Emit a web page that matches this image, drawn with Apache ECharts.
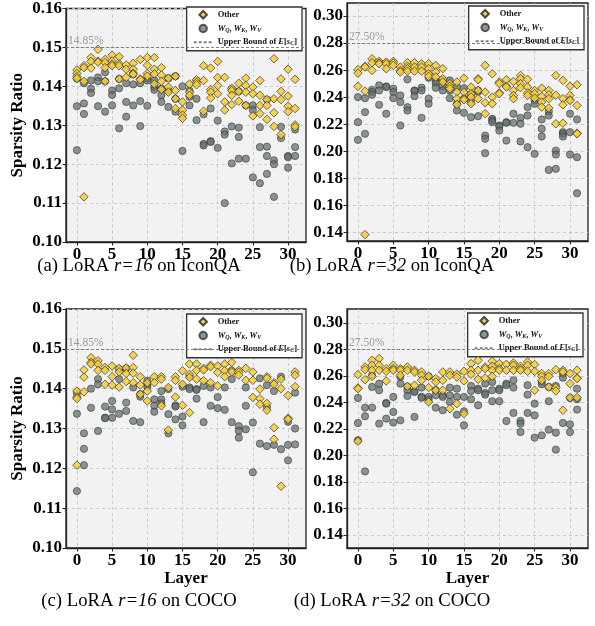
<!DOCTYPE html>
<html><head><meta charset="utf-8">
<script src="https://cdn.jsdelivr.net/npm/echarts@6/dist/echarts.min.js"></script>
<style>html,body{margin:0;padding:0;background:#fff}#c{width:595px;height:626px}</style>
</head><body><div id="c"></div>
<script>
const layers = Array.from({length: 32}, (_, i) => i);
const xTicks = [0, 5, 10, 15, 20, 25, 30];
const yTicksR16 = [0.10, 0.11, 0.12, 0.13, 0.14, 0.15, 0.16];
const yTicksR32 = [0.14, 0.16, 0.18, 0.20, 0.22, 0.24, 0.26, 0.28, 0.30];
const boundR16 = 0.1485;
const boundR32 = 0.2750;
const captions = [
  ['(a) LoRA ', 'r=16', ' on IconQA'],
  ['(b) LoRA ', 'r=32', ' on IconQA'],
  ['(c) LoRA ', 'r=16', ' on COCO'],
  ['(d) LoRA ', 'r=32', ' on COCO']
];

const otherA = [
[0.1442,0.1433,0.1425,0.1420],[0.1453,0.1448,0.1413,0.1116],[0.1474,0.1464,0.1447],[0.1495,0.1465,0.1462],
[0.1469,0.1461,0.1448,0.1413],[0.1480,0.1465,0.1457,0.1453],[0.1476,0.1458,0.1453,0.1419],[0.1455,0.1444,0.1423],
[0.1459,0.1444,0.1434,0.1431],[0.1469,0.1419,0.1417],[0.1474,0.1454,0.1433,0.1426],[0.1474,0.1444,0.1432,0.1406],
[0.1448,0.1429,0.1413,0.1392],[0.1421,0.1398,0.1385],[0.1426,0.1389,0.1368,0.1343],[0.1360,0.1339,0.1326,0.1318],
[0.1406,0.1385,0.1377],[0.1417,0.1410,0.1404],[0.1453,0.1415,0.1336],[0.1447,0.1392,0.1385,0.1370],
[0.1464,0.1423,0.1402,0.1381],[0.1423,0.1360,0.1339],[0.1395,0.1389,0.1377,0.1353],[0.1408,0.1387,0.1362],
[0.1421,0.1402,0.1385,0.1351],[0.1398,0.1381,0.1324],[0.1415,0.1377,0.1351,0.1330],[0.1366,0.1351,0.1315],
[0.1471,0.1368,0.1332,0.1297],[0.1419,0.1387,0.1366,0.1276],[0.1444,0.1375,0.1349,0.1335],[0.1418,0.1343,0.1301,0.1296]
];
const qkvA = [
[0.1420,0.1349,0.1236],[0.1408,0.1356,0.1329],[0.1415,0.1394,0.1383],[0.1423,0.1413,0.1349],
[0.1436,0.1413,0.1335],[0.1389,0.1378,0.1351],[0.1419,0.1395,0.1292],[0.1408,0.1360,0.1322],
[0.1431,0.1405,0.1351],[0.1408,0.1362,0.1298],[0.1420,0.1415,0.1350],[0.1415,0.1398,0.1391],
[0.1394,0.1377,0.1360],[0.1421,0.1389,0.1347],[0.1426,0.1368,0.1335],[0.1400,0.1234],
[0.1389,0.1373,0.1351],[0.1415,0.1368,0.1313],[0.1328,0.1252,0.1248],[0.1343,0.1259,0.1257],
[0.1312,0.1242],[0.1284,0.1276,0.1100],[0.1393,0.1297,0.1202],[0.1387,0.1294,0.1270,0.1214],
[0.1351,0.1214],[0.1351,0.1339,0.1166],[0.1295,0.1244,0.1151],[0.1366,0.1245,0.1221,0.1175],
[0.1210,0.1200,0.1116],[0.1296,0.1267],[0.1221,0.1218,0.1191],[0.1289,0.1244,0.1221]
];
const otherB = [
[0.2603,0.2578,0.2480],[0.2628,0.2623,0.2445,0.1385],[0.2684,0.2655,0.2598],[0.2665,0.2652,0.2647],
[0.2660,0.2647,0.2611],[0.2665,0.2652,0.2635],[0.2623,0.2598,0.2586],[0.2655,0.2628,0.2611,0.2593],
[0.2655,0.2623,0.2593],[0.2647,0.2623,0.2593],[0.2647,0.2611,0.2573,0.2554],[0.2635,0.2586,0.2549],
[0.2611,0.2537,0.2512],[0.2500,0.2480,0.2463],[0.2512,0.2438,0.2389,0.2347],[0.2541,0.2438,0.2389,0.2381],
[0.2475,0.2426,0.2401,0.2352],[0.2537,0.2529,0.2450,0.2389],[0.2635,0.2438,0.2359,0.2278],[0.2573,0.2401,0.2352],
[0.2512,0.2500,0.2433,0.2426],[0.2529,0.2482,0.2475],[0.2517,0.2450,0.2413,0.2389],[0.2561,0.2537,0.2500,0.2470],
[0.2532,0.2475,0.2431,0.2413],[0.2450,0.2426,0.2393],[0.2467,0.2406,0.2364,0.2327],[0.2450,0.2418,0.2389,0.2320],
[0.2561,0.2415,0.2204],[0.2524,0.2389,0.2344,0.2208],[0.2482,0.2413,0.2381,0.2376],[0.2492,0.2339,0.2135,0.2130]
];
const qkvB = [
[0.2401,0.2216,0.2085],[0.2393,0.2290,0.2130],[0.2455,0.2438,0.2418],[0.2487,0.2450,0.2344],
[0.2480,0.2475,0.2278],[0.2463,0.2438,0.2393],[0.2413,0.2364,0.2191],[0.2532,0.2327,0.2302],
[0.2450,0.2445,0.2408],[0.2470,0.2450,0.2248],[0.2544,0.2389,0.2352],[0.2519,0.2504,0.2470],
[0.2529,0.2480,0.2450],[0.2524,0.2450,0.2393],[0.2475,0.2352,0.2302],[0.2467,0.2389,0.2285],
[0.2421,0.2364,0.2253],[0.2450,0.2440,0.2260],[0.2117,0.2093,0.1987],[0.2241,0.2228,0.2216],
[0.2191,0.2184,0.2154],[0.2216,0.2211,0.2080],[0.2278,0.2211],[0.2248,0.2204,0.2073],
[0.2327,0.2265,0.2031],[0.2376,0.2352,0.1982],[0.2236,0.2167,0.2110],[0.2295,0.2265,0.1863],
[0.2006,0.1977,0.1871],[0.2142,0.2130,0.2110],[0.2278,0.2142,0.1977],[0.2236,0.1957,0.1691]
];
const otherC = [
[0.1394,0.1379,0.1375,0.1208],[0.1447,0.1429,0.1392],[0.1478,0.1466,0.1462],[0.1470,0.1462,0.1446],
[0.1453,0.1446,0.1411],[0.1457,0.1430,0.1409],[0.1451,0.1442,0.1404],[0.1452,0.1438,0.1418],
[0.1484,0.1453,0.1439,0.1415],[0.1430,0.1409,0.1386],[0.1415,0.1394,0.1369],[0.1430,0.1415],
[0.1430,0.1424,0.1357],[0.1403,0.1296],[0.1430,0.1421,0.1379],[0.1445,0.1411,0.1358],
[0.1462,0.1436,0.1428,0.1340],[0.1462,0.1446,0.1424],[0.1451,0.1447,0.1420],[0.1459,0.1455,0.1415],
[0.1457,0.1441,0.1407],[0.1462,0.1445,0.1430],[0.1466,0.1446,0.1442],[0.1446,0.1441,0.1434],
[0.1451,0.1421],[0.1442,0.1421,0.1378],[0.1399,0.1375,0.1361],[0.1430,0.1426,0.1363,0.1346],
[0.1415,0.1411,0.1302,0.1273],[0.1424,0.1400,0.1155],[0.1383,0.1326,0.1323],[0.1442,0.1434,0.1405]
];
const qkvC = [
[0.1388,0.1337,0.1143],[0.1288,0.1249,0.1208],[0.1400,0.1352],[0.1424,0.1411,0.1294],
[0.1355,0.1327,0.1326],[0.1369,0.1348,0.1327],[0.1449,0.1424,0.1337],[0.1451,0.1365,0.1344],
[0.1403,0.1319],[0.1386,0.1380,0.1316],[0.1420,0.1411,0.1405],[0.1373,0.1357,0.1342],
[0.1394,0.1373,0.1363],[0.1399,0.1336,0.1288],[0.1358,0.1355,0.1323],[0.1405,0.1330,0.1308],
[0.1432,0.1403,0.1399],[0.1399,0.1397,0.1375],[0.1407,0.1316],[0.1403,0.1357],
[0.1379,0.1351],[0.1403,0.1347],[0.1445,0.1424,0.1316],[0.1306,0.1294,0.1277],
[0.1403,0.1357,0.1298],[0.1315,0.1190],[0.1426,0.1262],[0.1409,0.1354,0.1256],
[0.1394,0.1259],[0.1430,0.1248],[0.1317,0.1259,0.1220],[0.1390,0.1300,0.1260]
];
const otherD = [
[0.2610,0.2509,0.2504,0.2107],[0.2668,0.2648,0.2572],[0.2718,0.2681,0.2643,0.2597],[0.2731,0.2681,0.2643],
[0.2655,0.2635,0.2562],[0.2681,0.2655,0.2643],[0.2655,0.2643,0.2605],[0.2668,0.2643,0.2522],
[0.2643,0.2630,0.2530],[0.2630,0.2605,0.2567],[0.2597,0.2512,0.2404],[0.2580,0.2555,0.2492],
[0.2630,0.2567,0.2492],[0.2630,0.2605,0.2353],[0.2613,0.2592,0.2391],[0.2635,0.2562,0.2316],
[0.2693,0.2643,0.2613],[0.2718,0.2643,0.2575],[0.2668,0.2655,0.2585],[0.2711,0.2673,0.2643,0.2597],
[0.2693,0.2655,0.2643],[0.2688,0.2643],[0.2698,0.2681,0.2643],[0.2673,0.2655,0.2643],
[0.2706,0.2681,0.2635],[0.2686,0.2635,0.2492],[0.2618,0.2597,0.2567],[0.2618,0.2597,0.2517],
[0.2648,0.2512,0.2487],[0.2643,0.2630,0.2341],[0.2618,0.2542,0.2437],[0.2643,0.2585,0.2580,0.2437]
];
const qkvD = [
[0.2434,0.2245,0.2115],[0.2361,0.2296,0.1880],[0.2605,0.2517,0.2361],[0.2542,0.2492,0.2240],
[0.2396,0.2391,0.2278],[0.2442,0.2328,0.2248],[0.2592,0.2542,0.2265],[0.2520,0.2492,0.2449],
[0.2484,0.2479,0.2291],[0.2512,0.2442,0.2436],[0.2597,0.2442,0.2421],[0.2492,0.2454,0.2361],
[0.2454,0.2442,0.2341],[0.2512,0.2454,0.2404],[0.2504,0.2442,0.2308],[0.2442,0.2333,0.2228],
[0.2525,0.2487,0.2424],[0.2504,0.2492,0.2379],[0.2542,0.2472,0.2459],[0.2555,0.2492,0.2409],
[0.2504,0.2492,0.2409],[0.2542,0.2530,0.2260],[0.2567,0.2512,0.2321],[0.2260,0.2240,0.2177],
[0.2530,0.2459,0.2321],[0.2391,0.2303,0.2135],[0.2555,0.2537,0.2152],[0.2517,0.2409,0.2195],
[0.2525,0.2172,0.2044],[0.2618,0.2587,0.2245],[0.2434,0.2235,0.2177],[0.2504,0.2424,0.2346]
];

const FONT = 'Liberation Serif';
const NAME_OTHER = 'Other';
const NAME_QKV = 'W_Q, W_K, W_V';
const NAME_BOUND = 'Upper Bound of E[s_C]';
const DIAMOND_ICON = 'path://M0,-1L1,0L0,1L-1,0Z';

const panels = [
  {other: otherA, qkv: qkvA, bound: boundR16, ticks: yTicksR16, ymin: 0.10, ymax: 0.16,
   grid: {left: 66, top: 3, width: 240, height: 239}, legend: {right: 293, top: 7}, yName: true, xName: false},
  {other: otherB, qkv: qkvB, bound: boundR32, ticks: yTicksR32, ymin: 0.1338, ymax: 0.3096,
   grid: {left: 347, top: 3, width: 241, height: 238}, legend: {right: 11, top: 6}, yName: false, xName: false},
  {other: otherC, qkv: qkvC, bound: boundR16, ticks: yTicksR16, ymin: 0.10, ymax: 0.16,
   grid: {left: 66, top: 309, width: 240, height: 239}, legend: {right: 293, top: 314}, yName: true, xName: true},
  {other: otherD, qkv: qkvD, bound: boundR32, ticks: yTicksR32, ymin: 0.1302, ymax: 0.3105,
   grid: {left: 347, top: 309, width: 241, height: 239}, legend: {right: 12, top: 313}, yName: false, xName: true}
];

function pts(arr) { return arr.flatMap((vals, i) => vals.map(v => [layers[i], v])); }

const legendRich = {
  n: {fontFamily: FONT, fontWeight: 'bold', fontSize: 8.5, color: '#111'},
  it: {fontFamily: FONT, fontWeight: 'bold', fontStyle: 'italic', fontSize: 8.5, color: '#111'},
  sub: {fontFamily: FONT, fontWeight: 'bold', fontStyle: 'italic', fontSize: 6, color: '#111', verticalAlign: 'bottom', lineHeight: 8, padding: [4, 0, 0, 0]}
};
function legendFmt(name) {
  if (name === NAME_QKV) return '{it|W}{sub|Q}{n|, }{it|W}{sub|K}{n|, }{it|W}{sub|V}';
  if (name === NAME_BOUND) return '{n|Upper Bound of }{it|E}{n|[}{it|s}{sub|C}{n|]}';
  return '{n|' + name + '}';
}

const gridLineStyle = {type: [3, 3], color: '#c6c6c6', width: 0.9};
const grid = [], xAxis = [], yAxis = [], series = [], legend = [];
panels.forEach((p, i) => {
  grid.push(Object.assign({show: true, backgroundColor: '#f2f2f2', borderColor: '#222', borderWidth: 1.3}, p.grid));
  xAxis.push({
    type: 'value', gridIndex: i, min: -1.55, max: 32.55,
    name: p.xName ? 'Layer' : '', nameLocation: 'middle', nameGap: 22,
    nameTextStyle: {fontFamily: FONT, fontWeight: 'bold', fontSize: 17, color: '#000'},
    axisLine: {show: true, onZero: false, lineStyle: {color: '#222', width: 1.3}},
    axisTick: {show: true, customValues: xTicks, length: 3.5, lineStyle: {color: '#222', width: 1}},
    axisLabel: {customValues: xTicks, fontFamily: FONT, fontWeight: 'bold', fontSize: 17, color: '#000', margin: 4},
    splitLine: {show: true, lineStyle: gridLineStyle}
  });
  yAxis.push({
    type: 'value', gridIndex: i, min: p.ymin, max: p.ymax,
    name: p.yName ? 'Sparsity Ratio' : '', nameLocation: 'middle', nameGap: 40,
    nameTextStyle: {fontFamily: FONT, fontWeight: 'bold', fontSize: 17, color: '#000'},
    axisLine: {show: true, onZero: false, lineStyle: {color: '#222', width: 1.3}},
    axisTick: {show: true, customValues: p.ticks, length: 3.5, lineStyle: {color: '#222', width: 1}},
    axisLabel: {customValues: p.ticks, formatter: v => v.toFixed(2), fontFamily: FONT, fontWeight: 'bold', fontSize: 17, color: '#000', margin: 4},
    splitLine: {show: true, lineStyle: gridLineStyle}
  });
  series.push({
    name: NAME_QKV, type: 'scatter', xAxisIndex: i, yAxisIndex: i, z: 3,
    symbol: 'circle', symbolSize: 7.3, data: pts(p.qkv),
    itemStyle: {color: '#66716f', borderColor: '#2b2b2b', borderWidth: 0.7, opacity: 0.75}
  });
  series.push({
    name: NAME_OTHER, type: 'scatter', xAxisIndex: i, yAxisIndex: i, z: 4,
    symbol: 'diamond', symbolSize: 8.5, data: pts(p.other),
    itemStyle: {color: '#f6cd35', borderColor: '#2b2b2b', borderWidth: 0.8, opacity: 0.85}
  });
  series.push({
    name: NAME_BOUND, type: 'line', xAxisIndex: i, yAxisIndex: i, data: [], z: 2,
    symbol: 'none', showSymbol: false, lineStyle: {type: [3, 2], color: '#808080', width: 1.1},
    itemStyle: {color: '#808080', opacity: 0},
    markLine: {
      silent: true, symbol: ['none', 'none'], animation: false,
      lineStyle: {type: [3, 2], color: '#808080', width: 1.1},
      label: {show: true, position: 'insideStartTop', distance: [2, 0],
        formatter: () => (p.bound * 100).toFixed(2) + '%',
        fontFamily: FONT, fontSize: 11.5, color: '#9a9a9a'},
      data: [{yAxis: p.bound}]
    }
  });
  legend.push(Object.assign({
    orient: 'vertical',
    data: [
      {name: NAME_OTHER, icon: DIAMOND_ICON},
      {name: NAME_QKV, icon: 'circle'},
      {name: NAME_BOUND, itemStyle: {opacity: 0}}
    ],
    symbolKeepAspect: true,
    itemWidth: 19, itemHeight: 7.5, itemGap: 3.5, padding: [3, 5, 4, 6],
    backgroundColor: '#ffffff', borderColor: '#333', borderWidth: 1.3, borderRadius: 0,
    selectedMode: false, formatter: legendFmt,
    textStyle: {fontFamily: FONT, fontWeight: 'bold', fontSize: 8.5, color: '#111', rich: legendRich}
  }, p.legend));
});

const capX = [139, 392, 139, 392];
const capY = [266, 266, 601, 601];
const graphic = captions.map((c, i) => ({
  type: 'text', x: capX[i], y: capY[i], silent: true,
  style: {
    text: '{n|' + c[0] + '}{i|' + c[1] + '}{n|' + c[2] + '}',
    align: 'center', verticalAlign: 'middle',
    rich: {
      n: {fontFamily: FONT, fontSize: 18.7, fill: '#000'},
      i: {fontFamily: FONT, fontSize: 18.7, fontStyle: 'italic', fill: '#000'}
    }
  }
}));

const chart = echarts.init(document.getElementById('c'), null, {renderer: 'canvas'});
chart.setOption({animation: false, backgroundColor: '#fff', grid, xAxis, yAxis, series, legend, graphic});
</script></body></html>
